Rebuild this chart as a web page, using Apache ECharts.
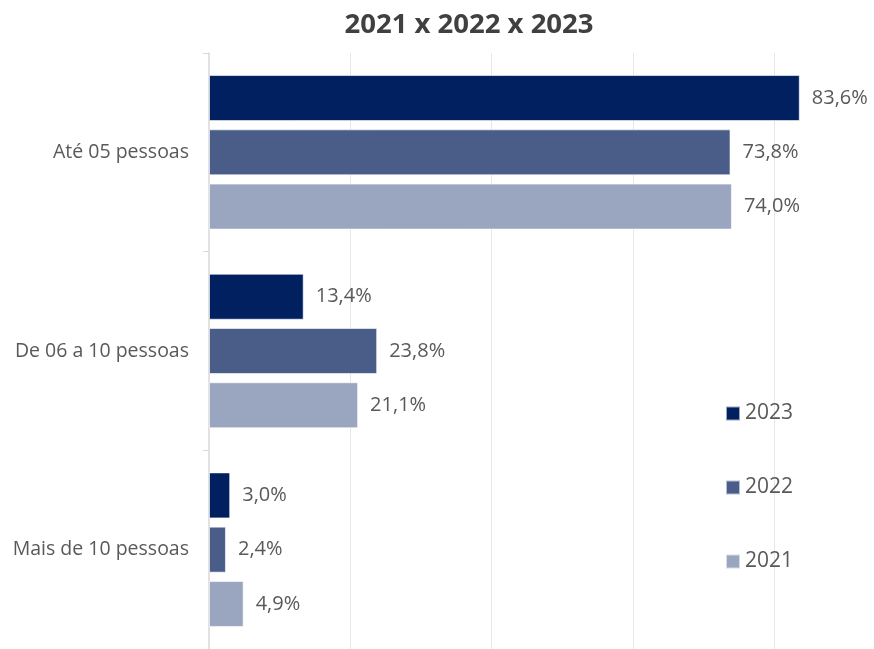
<!DOCTYPE html>
<html>
<head>
<meta charset="utf-8">
<script src="https://cdn.jsdelivr.net/npm/echarts@6/dist/echarts.min.js"></script>
<style>
  html, body { margin: 0; padding: 0; background: #fff; }
  #chart { width: 874px; height: 649px; }
</style>
</head>
<body>
<div id="chart"></div>
<script>
const categories = ['Até 05 pessoas', 'De 06 a 10 pessoas', 'Mais de 10 pessoas']
const years = ['2023', '2022', '2021']
const values2023 = [83.6, 13.4, 3.0]
const values2022 = [73.8, 23.8, 2.4]
const values2021 = [74.0, 21.1, 4.9]

const COLORS = ['#002060', '#4a5d89', '#9aa6bf']
const TEXT = '#595959'
const FONT = '"Open Sans", "Noto Sans", sans-serif'

const fmt = (p) => p.value.toFixed(1).replace('.', ',') + '%'

const chart = echarts.init(document.getElementById('chart'))

const seriesData = [values2023, values2022, values2021]

chart.setOption({
  animation: false,
  backgroundColor: '#fff',
  textStyle: { fontFamily: FONT },
  title: {
    text: '2021 x 2022 x 2023',
    left: 464,
    textAlign: 'center',
    top: 6,
    textStyle: { fontSize: 27.5, fontWeight: 'bold', color: '#404040', fontFamily: FONT },
  },
  legend: {
    orient: 'vertical',
    left: 720,
    top: 398,
    itemWidth: 14,
    itemHeight: 14,
    itemGap: 53,
    icon: 'rect',
    data: years,
    textStyle: { fontSize: 21, color: TEXT, fontFamily: FONT },
  },
  grid: { left: 209, right: 29, top: 53, height: 600, containLabel: false },
  xAxis: {
    type: 'value',
    min: 0,
    max: 90,
    interval: 20,
    axisLabel: { show: false },
    axisLine: { show: false },
    axisTick: { show: false },
    splitLine: { showMinLine: false, showMaxLine: false, lineStyle: { color: '#e6e6e6', width: 1 } },
  },
  yAxis: {
    type: 'category',
    inverse: true,
    data: categories,
    axisLine: { show: true, lineStyle: { color: '#d9d9d9', width: 1.5 } },
    axisTick: { show: true, length: 6, lineStyle: { color: '#d9d9d9' } },
    axisLabel: { fontSize: 19.5, color: TEXT, margin: 20, fontFamily: FONT },
  },
  series: years.map((y, i) => ({
    name: y,
    type: 'bar',
    data: seriesData[i],
    barWidth: 46,
    barGap: '18%',
    itemStyle: { color: COLORS[i], borderColor: 'rgba(255,255,255,0.6)', borderWidth: 1 },
    label: {
      show: true,
      position: 'right',
      distance: 12,
      formatter: fmt,
      fontSize: 20,
      color: TEXT,
      fontFamily: FONT,
    },
  })),
})
</script>
</body>
</html>
